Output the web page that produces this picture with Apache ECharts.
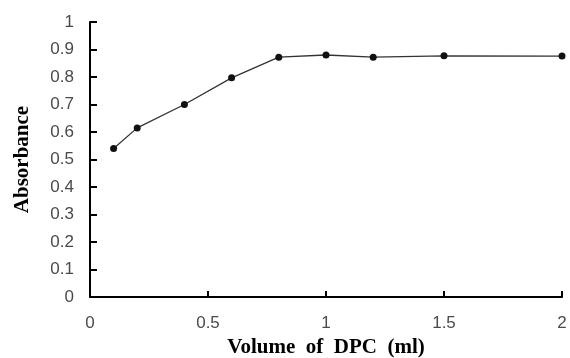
<!DOCTYPE html>
<html>
<head>
<meta charset="utf-8">
<script src="https://cdn.jsdelivr.net/npm/echarts@6/dist/echarts.min.js"></script>
<style>html,body{margin:0;padding:0;background:#fff;}#c{width:570px;height:358px;}</style>
</head>
<body>
<div id="c"></div>
<script>
var volumes = [0.1, 0.2, 0.4, 0.6, 0.8, 1.0, 1.2, 1.5, 2.0];
var absorbance = [0.54, 0.615, 0.70, 0.797, 0.872, 0.880, 0.872, 0.877, 0.876];
var xAxisName = 'Volume  of  DPC  (ml)';
var yAxisName = 'Absorbance';

var chart = echarts.init(document.getElementById('c'), null, {renderer: 'canvas'});
var points = volumes.map(function (v, i) { return [v, absorbance[i]]; });
var axisLabelStyle = {color: '#4a4a4a', fontFamily: 'Liberation Sans', fontSize: 17};
var nameStyle = {color: '#000', fontFamily: 'Liberation Serif', fontWeight: 'bold', fontSize: 21};
chart.setOption({
  animation: false,
  backgroundColor: '#fff',
  grid: {left: 90, right: 8, top: 22, bottom: 61, outerBoundsMode: 'none', containLabel: false},
  xAxis: {
    type: 'value', min: 0, max: 2, interval: 0.5,
    name: xAxisName, nameLocation: 'middle', nameGap: 39, nameTextStyle: nameStyle,
    axisLine: {show: true, onZero: false, lineStyle: {color: '#000', width: 2}},
    axisTick: {show: true, inside: true, length: 6, lineStyle: {color: '#000', width: 2}},
    axisLabel: Object.assign({margin: 18}, axisLabelStyle),
    splitLine: {show: false}
  },
  yAxis: {
    type: 'value', min: 0, max: 1, interval: 0.1,
    name: yAxisName, nameLocation: 'middle', nameGap: 57, nameTextStyle: nameStyle,
    axisLine: {show: true, onZero: false, lineStyle: {color: '#000', width: 2}},
    axisTick: {show: true, inside: true, length: 7, lineStyle: {color: '#000', width: 2}},
    axisLabel: Object.assign({margin: 16}, axisLabelStyle),
    splitLine: {show: false}
  },
  series: [{
    type: 'line',
    data: points,
    symbol: 'circle',
    symbolSize: 7,
    itemStyle: {color: '#111'},
    lineStyle: {color: '#333', width: 1.3}
  }]
});
</script>
</body>
</html>
